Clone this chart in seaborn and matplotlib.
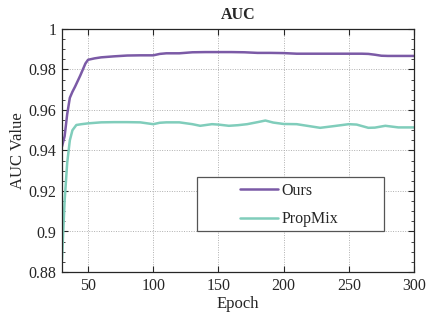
import numpy as np
import pandas as pd
import seaborn as sns
import matplotlib.pyplot as plt
import matplotlib.ticker as ticker
from matplotlib.patches import Rectangle

# 読み取った値
ours_epoch = [30, 32, 34, 36, 38, 40, 44, 48, 50, 55, 60, 70, 80, 90, 100, 105, 110, 120, 130,
              140, 150, 160, 170, 180, 190, 200, 210, 220, 230, 240, 250, 260, 265, 270, 275,
              280, 290, 300]
ours_auc = [0.942, 0.947, 0.958, 0.966, 0.969, 0.9715, 0.977, 0.983, 0.9848, 0.9855, 0.986,
            0.9865, 0.9869, 0.987, 0.987, 0.9877, 0.988, 0.988, 0.9885, 0.9886, 0.9886,
            0.9886, 0.9885, 0.9882, 0.9882, 0.9881, 0.9878, 0.9878, 0.9878, 0.9878, 0.9878,
            0.9878, 0.9877, 0.9873, 0.9868, 0.9867, 0.9867, 0.9867]

propmix_epoch = [30, 32, 34, 36, 38, 41, 45, 50, 60, 70, 80, 90, 100, 105, 110, 120, 130, 136,
                 145, 150, 158, 165, 172, 180, 186, 192, 200, 210, 220, 228, 238, 250, 256,
                 265, 270, 278, 288, 300]
propmix_auc = [0.886, 0.915, 0.934, 0.945, 0.950, 0.9526, 0.953, 0.9534, 0.9539, 0.954,
               0.954, 0.9539, 0.953, 0.9537, 0.9539, 0.9539, 0.953, 0.9522, 0.953, 0.9528,
               0.9522, 0.9525, 0.953, 0.954, 0.9548, 0.9538, 0.9531, 0.953, 0.952, 0.9512,
               0.952, 0.953, 0.9528, 0.9512, 0.9513, 0.9522, 0.9514, 0.9514]

labels = ["Ours", "PropMix"]
colors = ["#7b5aa6", "#80cdbb"]

df_ours = pd.DataFrame({"Epoch": ours_epoch, "AUC": ours_auc})
df_prop = pd.DataFrame({"Epoch": propmix_epoch, "AUC": propmix_auc})

sns.set_style("ticks")
plt.rcParams['font.family'] = ['Liberation Serif', 'DejaVu Serif']

fig = plt.figure(figsize=(4.4, 3.2), dpi=100)
ax = fig.add_axes([62/440, 1-272/320, 352/440, 243/320])

sns.lineplot(data=df_ours, x="Epoch", y="AUC", ax=ax, color=colors[0], linewidth=1.8, label=labels[0])
sns.lineplot(data=df_prop, x="Epoch", y="AUC", ax=ax, color=colors[1], linewidth=1.8, label=labels[1])

ax.set_xlim(30, 300)
ax.set_ylim(0.88, 1.0)
ax.set_xticks(np.arange(50, 301, 50))
ax.set_yticks(np.arange(0.88, 1.001, 0.02))
ax.yaxis.set_major_formatter(ticker.FuncFormatter(lambda v, p: ('%.2f' % v).rstrip('0').rstrip('.')))
ax.yaxis.set_minor_locator(ticker.MultipleLocator(0.005))

ax.grid(True, which="major", linestyle=(0, (1, 1.5)), color="#b0b0b0", linewidth=0.7)
ax.set_axisbelow(True)

for s in ax.spines.values():
    s.set_color("#262626")
    s.set_linewidth(0.9)
ax.tick_params(which="both", direction="in", top=True, right=True, color="#262626",
               labelsize=11.5, labelcolor="#262626", pad=4)
ax.tick_params(which="major", length=4)
ax.tick_params(which="minor", length=2.5)
ax.tick_params(axis="x", which="minor", top=False, bottom=False)

ax.set_title("AUC", fontsize=11.5, fontweight="bold", pad=7)
ax.set_xlabel("Epoch", fontsize=12, labelpad=2)
ax.set_ylabel("AUC Value", fontsize=12, labelpad=2)

# 凡例の枠
ax.add_patch(Rectangle(((197-62)/352, (272-231)/243), (384-197)/352, (231-177)/243,
                       transform=ax.transAxes, facecolor="white", edgecolor="#555555",
                       linewidth=0.9, zorder=5))
leg = ax.legend(loc="center left", bbox_to_anchor=((240-62)/352, (272-205)/243),
                frameon=False, fontsize=11.5, handlelength=2.4, handletextpad=0.2,
                labelspacing=0.8, borderpad=0, borderaxespad=0)
leg.set_zorder(6)

plt.savefig("out.png", dpi=100)
plt.close()
